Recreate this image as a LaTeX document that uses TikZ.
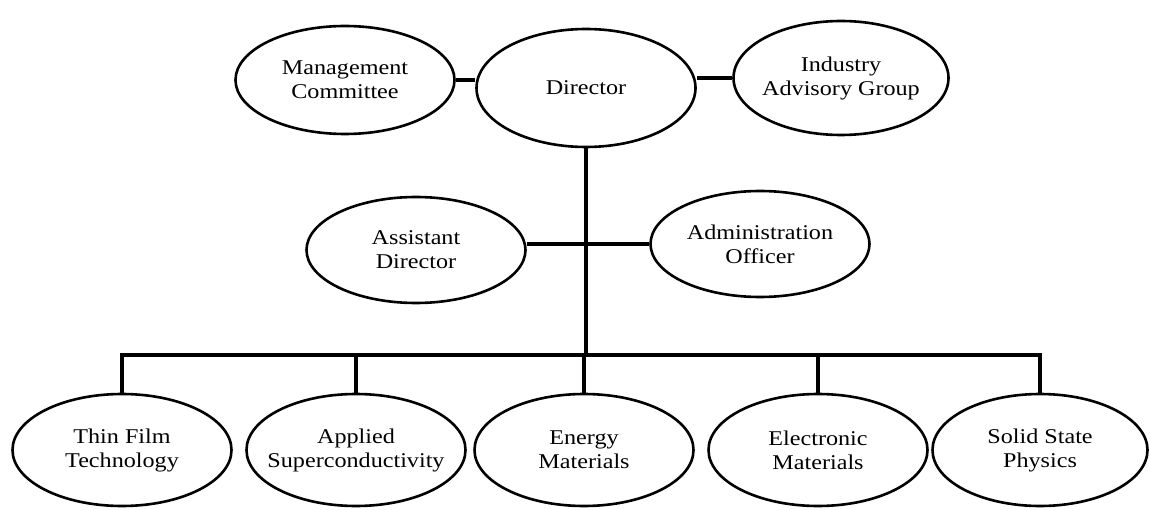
\documentclass[tikz,border=0pt]{standalone}
\usepackage{fontspec}
\setmainfont{Liberation Serif}[FakeStretch=1.15]
\usetikzlibrary{shapes.geometric}

\begin{document}
\begin{tikzpicture}[x=1pt, y=-1pt,
  unit/.style={draw, ellipse, line width=2.6pt, minimum width=219pt,
    minimum height=112pt, inner xsep=-40pt, inner ysep=-20pt, align=center,
    font=\fontsize{21}{24}\selectfont},
  link/.style={line width=4.5pt}]
\useasboundingbox (0,0) rectangle (1150,510);
% top row
\node [unit, minimum height=108pt] (mc) at (345,80) {Management\\Committee};
\node [unit, minimum height=118pt] (dir) at (586,88) {Director};
\node [unit, minimum width=215pt, minimum height=114pt] (iag) at (841,78) {Industry\\Advisory Group};
\draw [link] (mc.east) -- (mc.east -| dir.west);
\draw [link] (iag.west) -- (iag.west -| dir.east);
% middle row
\node [unit, minimum height=106pt] (ad) at (416,250) {Assistant\\Director};
\node [unit, minimum height=106pt] (ao) at (760,244) {Administration\\Officer};
\coordinate (bus) at (586,355);
\draw [link] (dir.south) -- (bus);
\draw [link] (ad.east |- ao.west) -- (ao.west);
% research groups
\node [unit] (tft) at (122,450) {Thin Film\\Technology};
\node [unit] (asc) at (356,450) {Applied\\Superconductivity};
\node [unit] (em) at (584,450) {Energy\\Materials};
\node [unit] (elm) at (818,450) {Electronic\\Materials};
\node [unit, minimum width=215pt] (ssp) at (1040,450) {Solid State\\Physics};
\draw [link] (tft.north) |- (bus) -| (ssp.north);
\foreach \g in {asc,em,elm}
  \draw [link] (\g.north) -- (\g.north |- bus);
\end{tikzpicture}
\end{document}
